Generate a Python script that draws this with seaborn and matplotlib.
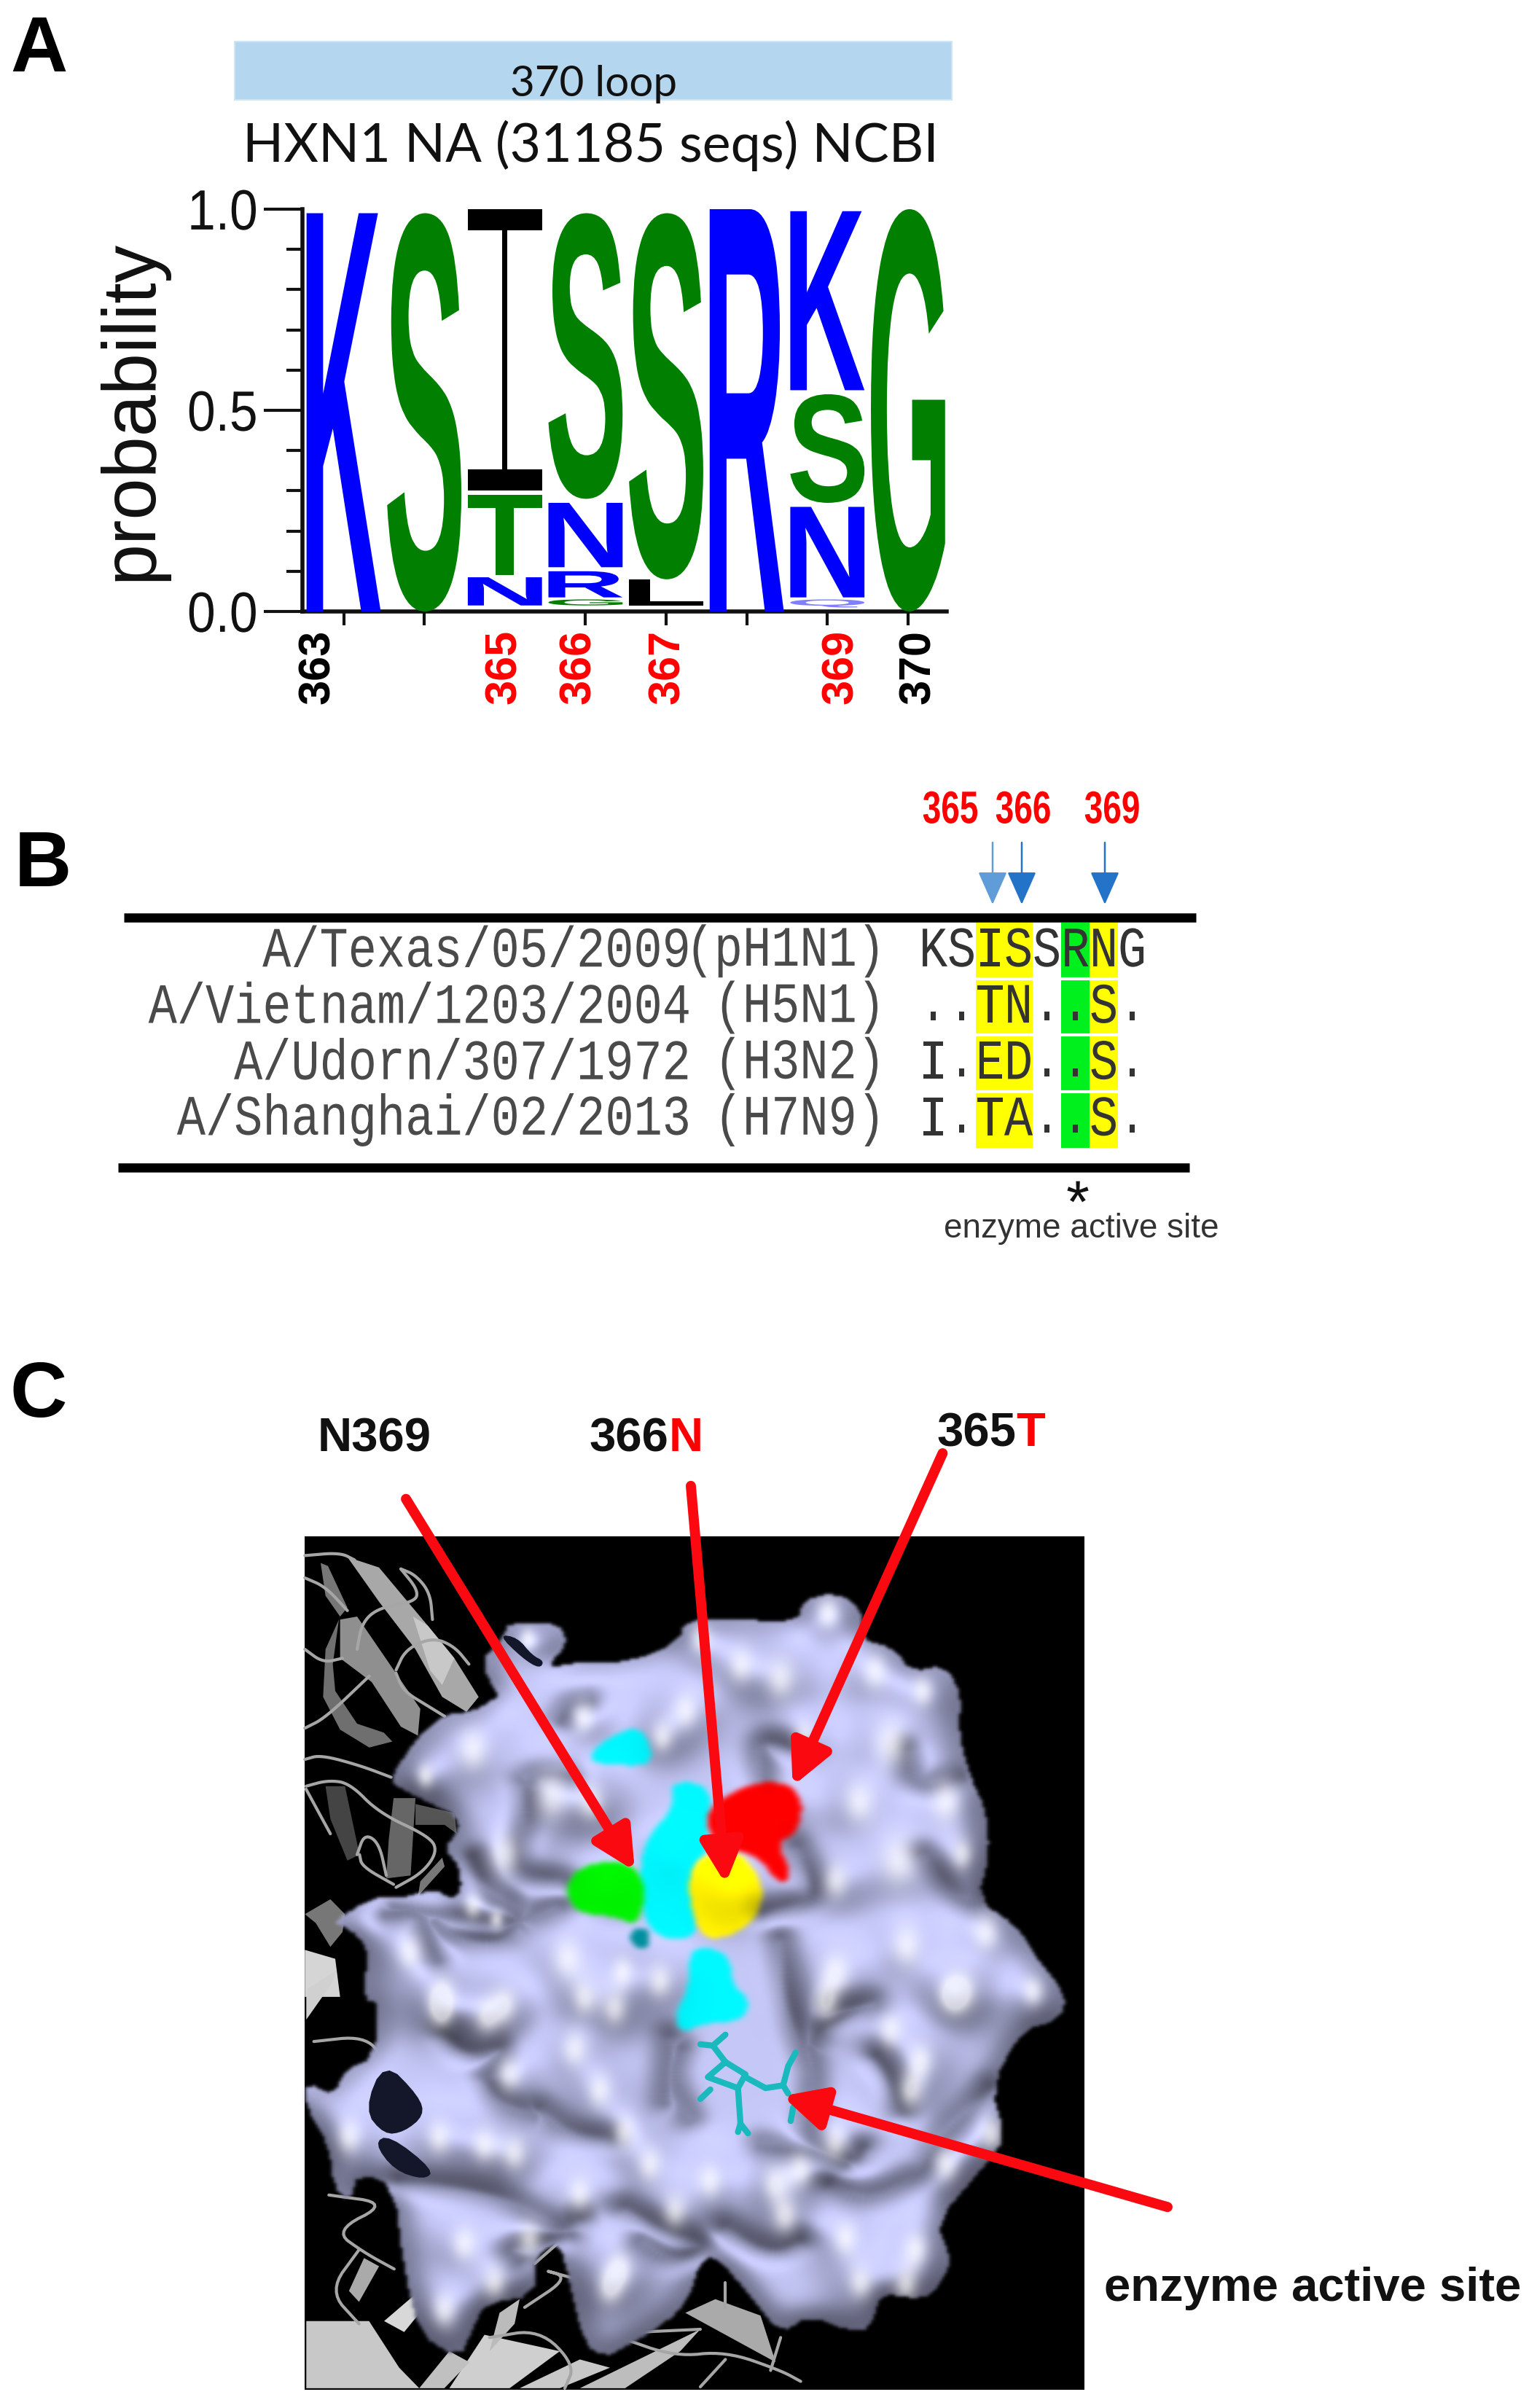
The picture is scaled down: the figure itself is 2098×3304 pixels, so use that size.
import numpy as np
import matplotlib
matplotlib.use("Agg")
import matplotlib.pyplot as plt
import seaborn as sns
from matplotlib.colors import ListedColormap
from matplotlib.patches import Rectangle, Polygon
from matplotlib.path import Path
from matplotlib.patheffects import AbstractPathEffect
from matplotlib.transforms import Affine2D

# ---------- data ----------
logo_positions = [1, 2, 3, 4, 5, 6, 7, 8]
logo_letters = [["K"], ["S"], ["N", "T", "I"], ["G", "R", "N", "S"], ["L", "S"], ["R"],
                ["Q", "N", "S", "K"], ["G"]]
logo_bottoms = [[0.0], [0.0], [0.015, 0.09, 0.30], [0.015, 0.035, 0.11, 0.28], [0.015, 0.08], [0.0],
                [0.01, 0.035, 0.27, 0.55], [0.0]]
logo_tops = [[0.99], [0.99], [0.085, 0.29, 1.0], [0.03, 0.10, 0.27, 0.99], [0.08, 0.99], [1.0],
             [0.03, 0.26, 0.54, 0.995], [1.0]]
xlabel_pos = [0.68, 3.0, 3.92, 5.02, 7.17, 8.13]
xlabels = ["363", "365", "366", "367", "369", "370"]
xlabel_colors = ["black", "red", "red", "red", "red", "black"]
strains = ["A/Texas/05/2009", "A/Vietnam/1203/2004", "A/Udorn/307/1972", "A/Shanghai/02/2013"]
subtypes = ["(pH1N1)", "(H5N1)", "(H3N2)", "(H7N9)"]
alignment = [list("KSISSRNG"), list("..TN..S."), list("I.ED..S."), list("I.TA..S.")]
highlight = [[0, 0, 1, 1, 0, 2, 1, 0]] * 4
arrow_labels = ["365", "366", "369"]

LOGO_COL = {"K": "#0000ff", "R": "#0000ff", "N": "#0000ff", "Q": "#7f7fff", "S": "#007f00",
            "T": "#007f00", "G": "#007f00", "I": "#000000", "L": "#000000"}

W, H = 2098, 3304
sns.set_theme(style="white")
plt.rcParams["font.family"] = ["Liberation Sans", "DejaVu Sans"]
fig = plt.figure(figsize=(W / 100, H / 100), dpi=100, facecolor="white")


def make_ax(x0, y0, x1, y1, **kw):
    return fig.add_axes([x0 / W, 1 - y1 / H, (x1 - x0) / W, (y1 - y0) / H], **kw)


class StretchToBox(AbstractPathEffect):
    """Stretches the glyph of a real Text so that it fills a box given in data units."""

    def __init__(self, ax, x0, y0, x1, y1):
        super().__init__()
        self.ax, self.box = ax, (x0, y0, x1, y1)

    def draw_path(self, renderer, gc, tpath, affine, rgbFace=None):
        p = tpath.transformed(affine)
        bb = p.get_extents()
        x0, y0, x1, y1 = self.box
        (a, b), (c, d) = self.ax.transData.transform([(x0, y0), (x1, y1)])
        t = (Affine2D().translate(-bb.x0, -bb.y0)
             .scale((c - a) / bb.width, (d - b) / bb.height).translate(a, b))
        renderer.draw_path(gc, p, t, rgbFace)


class SlabI(StretchToBox):
    """The logo's I: broad rounded bars and a thin stem, filling a box."""

    def draw_path(self, renderer, gc, tpath, affine, rgbFace=None):
        x0, y0, x1, y1 = self.box
        (a, b), (c, d) = self.ax.transData.transform([(x0, y0), (x1, y1)])
        cx = (a + c) / 2
        bar = 0.075 * (d - b)
        stem = 0.035 * (c - a) * 2
        rects = [(a, b, c, b + bar), (cx - stem / 2, b, cx + stem / 2, d), (a, d - bar, c, d)]
        for r0, r1, r2, r3 in rects:
            renderer.draw_path(gc, Path([(r0, r1), (r2, r1), (r2, r3), (r0, r3), (r0, r1)]),
                               Affine2D(), rgbFace)


class ScaleXY(AbstractPathEffect):
    """Anisotropic scale of a text about its centre (the reference is stretched)."""

    def __init__(self, sx=1.0, sy=1.0):
        super().__init__()
        self.sx, self.sy = sx, sy

    def draw_path(self, renderer, gc, tpath, affine, rgbFace=None):
        p = tpath.transformed(affine)
        bb = p.get_extents()
        cx, cy = (bb.x0 + bb.x1) / 2, (bb.y0 + bb.y1) / 2
        t = Affine2D().translate(-cx, -cy).scale(self.sx, self.sy).translate(cx, cy)
        renderer.draw_path(gc, p, t, rgbFace)


# ---------- full-figure overlay for header elements ----------
top = make_ax(0, 0, W, H, zorder=0)
top.set_xlim(0, W)
top.set_ylim(H, 0)
top.axis("off")
for s, x, y in [("A", 53, 70), ("B", 59, 1188), ("C", 53, 1916)]:
    top.text(x, y, s, fontsize=78, fontweight="bold", ha="center", va="center", color="black")
top.add_patch(Rectangle((322, 57), 984, 80, fc="#b4d6ee", ec="#cfe4f4", lw=1.5))
top.text(815, 116, "370 loop", fontsize=42, family="Lato", ha="center", va="center", color="#111111")
top.text(810, 200, "HXN1 NA (31185 seqs) NCBI", fontsize=53, family="Lato", ha="center",
         va="center", color="#111111")

# ---------- panel A: sequence logo ----------
axA = make_ax(415, 287, 1299, 839)
axA.patch.set_alpha(0)
axA.set_xlim(0.489, 8.48)
axA.set_ylim(0, 1)
sns.despine(ax=axA)
for sp in ("left", "bottom"):
    axA.spines[sp].set_linewidth(4)
    axA.spines[sp].set_color("#111111")
for pos, letters, bots, tops in zip(logo_positions, logo_letters, logo_bottoms, logo_tops):
    for ch, b, t in zip(letters, bots, tops):
        size = min(40, max(3, (t - b) * 380))
        txt = axA.text(pos, (b + t) / 2, ch, color=LOGO_COL[ch], fontsize=size, fontweight="bold",
                       ha="center", va="center")
        eff = SlabI if ch == "I" else StretchToBox
        txt.set_path_effects([eff(axA, pos - 0.46, b, pos + 0.46, t)])
axA.set_yticks([0, 0.5, 1.0], ["0.0", "0.5", "1.0"], fontsize=50, color="#111111")
axA.set_yticks(np.arange(0.1, 1.0, 0.1), minor=True)
axA.tick_params(axis="y", which="major", length=38, width=3, color="#111111", left=True, pad=6)
axA.tick_params(axis="y", which="minor", length=16, width=3, color="#111111", left=True)
for lab in axA.get_yticklabels():
    lab.set_path_effects([ScaleXY(1.0, 1.12)])
axA.set_xticks(logo_positions, minor=True)
axA.set_xticks(xlabel_pos, xlabels, rotation=90, fontsize=44, fontweight="bold")
axA.tick_params(axis="x", which="major", length=0, pad=18)
axA.tick_params(axis="x", which="minor", length=14, width=3, color="#111111", bottom=True)
for lab, c in zip(axA.get_xticklabels(), xlabel_colors):
    lab.set_color(c)
axA.set_ylabel("probability", fontsize=74, color="#111111", labelpad=0)
axA.yaxis.set_label_coords(-0.21, 0.50)

# ---------- panel B: alignment ----------
axB = make_ax(1261, 1266, 1573, 1575)
sns.heatmap(np.array(highlight), ax=axB, cbar=False, cmap=ListedColormap(["#ffffff", "#ffff00", "#00f01e"]),
            vmin=0, vmax=2, annot=np.array(alignment), fmt="", xticklabels=False, yticklabels=False,
            annot_kws={"fontsize": 47, "family": "Liberation Mono", "color": "#333333"})
axB.hlines([1, 2, 3], 0, 8, colors="white", lw=3)
for t in axB.texts:
    t.set_path_effects([ScaleXY(1.0, 1.2)])
for i, (st, sub) in enumerate(zip(strains, subtypes)):
    a = axB.text(-8.05, i + 0.5, st, ha="right", va="center", fontsize=47, family="Liberation Mono",
                 color="#4a4a4a", clip_on=False)
    b = axB.text(-1.19, i + 0.5, sub, ha="right", va="center", fontsize=47, family="Liberation Mono",
                 color="#4a4a4a", clip_on=False)
    a.set_path_effects([ScaleXY(1.0, 1.2)])
    b.set_path_effects([ScaleXY(1.0, 1.2)])
top.plot([170, 1641], [1259, 1259], color="black", lw=9, solid_capstyle="butt")
top.plot([162, 1632], [1602, 1602], color="black", lw=9, solid_capstyle="butt")
for x, c in zip((1362, 1402, 1516), ("#5f9cd8", "#2374c8", "#2374c8")):
    top.annotate("", xy=(x, 1241), xytext=(x, 1156),
                 arrowprops=dict(arrowstyle="-|>,head_length=0.95,head_width=0.42", color=c,
                                 lw=1.8, mutation_scale=30, shrinkA=0, shrinkB=0))
for x, s in zip((1304, 1404, 1526), arrow_labels):
    t = top.text(x, 1112, s, color="red", fontsize=36, fontweight="bold", ha="center", va="center")
    t.set_path_effects([ScaleXY(0.92, 1.25)])
star = top.text(1479, 1645, "*", fontsize=28, ha="center", va="center", color="#111111")
star.set_path_effects([ScaleXY(2.1, 2.1)])
top.text(1484, 1686, "enzyme active site", fontsize=33, ha="center", va="center", color="#333333")


# ---------- panel C: protein surface (working frame: 1568 x 1568 units over the crop) ----------
def from_a(pts):
    return [(9.2 + 0.308 * x, 223 + 0.456 * y) for x, y in pts]


def from_b(pts):
    return [(9.2 + 0.636 * x, 893 + 0.42 * y) for x, y in pts]


def chaikin(pts, n=2):
    p = np.array(pts, float)
    for _ in range(n):
        q = np.roll(p, -1, axis=0)
        p = np.stack([0.75 * p + 0.25 * q, 0.25 * p + 0.75 * q], axis=1).reshape(-1, 2)
    return p


def chaikin_open(pts, n=3):
    p = np.array(pts, float)
    for _ in range(n):
        m = np.stack([0.75 * p[:-1] + 0.25 * p[1:], 0.25 * p[:-1] + 0.75 * p[1:]], axis=1).reshape(-1, 2)
        p = np.vstack([p[:1], m, p[-1:]])
    return p


outline_top = [(262, 478), (240, 425), (270, 385), (275, 365), (340, 365), (350, 400), (320, 435), (370, 425),
               (430, 425), (490, 395), (500, 360), (570, 360), (640, 365), (650, 330), (690, 318), (725, 345),
               (720, 390), (765, 405), (785, 440), (830, 430), (850, 480), (845, 530), (860, 600), (880, 650),
               (885, 720), (870, 790), (920, 830), (945, 880)]
outline_bottom = [(1530, 100), (1520, 190), (1440, 230), (1380, 440), (1410, 620), (1370, 720), (1270, 930),
                  (1300, 1060), (1290, 1120), (1260, 1200), (1220, 1210), (1160, 1190), (1140, 1320), (1100, 1330),
                  (1020, 1270), (960, 1340), (900, 1200), (830, 1050), (800, 1080), (780, 1200), (740, 1290),
                  (640, 1400), (610, 1420), (570, 1380), (540, 1150), (520, 1000), (470, 1060), (470, 1200),
                  (370, 1230), (350, 1310), (320, 1430), (240, 1340), (210, 1100), (190, 800), (120, 750),
                  (100, 860), (70, 800), (60, 650), (15, 510), (15, 420), (70, 470), (90, 380), (150, 330),
                  (160, 130), (130, 120), (135, 0)]
outline_left = [(280, 1400), (210, 1340), (130, 1320), (320, 1230), (400, 1240), (560, 1210), (630, 1240),
                (670, 1210), (660, 1130), (600, 1070), (660, 1010), (650, 960), (520, 910), (400, 860), (380, 830),
                (470, 720), (500, 690), (600, 620), (720, 610), (820, 560)]
outline = outline_top + from_b(outline_bottom) + from_a(outline_left)

bumps_top = [(570, 430, 35), (680, 350, 30), (520, 390, 30), (620, 450, 40), (740, 440, 35), (800, 470, 30),
             (760, 550, 45), (830, 640, 40), (720, 640, 40), (650, 540, 30), (500, 500, 35), (370, 510, 30),
             (300, 390, 22), (230, 560, 40), (170, 600, 25), (330, 630, 45), (270, 720, 40), (380, 640, 35),
             (470, 540, 30), (770, 730, 50), (690, 760, 35), (850, 720, 30), (690, 900, 40), (780, 860, 40),
             (880, 840, 35), (850, 930, 40), (940, 930, 30), (150, 870, 35), (230, 800, 25), (260, 820, 20),
             (350, 880, 40), (420, 900, 30), (190, 960, 35), (270, 950, 35), (560, 770, 40), (620, 640, 32),
             (400, 770, 30), (480, 720, 30)]
bumps_lower = [(285, 100), (375, 180), (570, 110), (630, 150), (420, 390), (550, 300), (600, 450), (650, 600),
               (430, 680), (280, 620), (370, 650), (560, 830), (330, 1010), (460, 990), (390, 1150), (640, 1100),
               (620, 1170), (750, 890), (950, 790), (970, 910), (1090, 990), (1120, 1150), (1220, 450), (1240, 340),
               (1300, 100), (1050, 130), (1180, 230), (1290, 720), (1380, 610), (1070, 640), (820, 780), (1210, 1160),
               (720, 50), (100, 620), (1000, 740), (700, 720), (290, 1250), (1230, 1030)]
creases = [from_b([(370, 400), (400, 500), (470, 540)]), from_b([(370, 400), (420, 280), (340, 330), (290, 240)]),
           from_b([(620, 620), (540, 610), (480, 520)]), from_b([(760, 300), (740, 420), (780, 560)]),
           from_b([(1020, 300), (1030, 470), (1000, 620), (1110, 720), (1130, 660)]),
           from_b([(200, 780), (340, 810), (430, 860), (520, 960), (560, 920)]),
           from_b([(1060, 150), (1180, 120), (1050, 200), (1030, 280)]),
           from_b([(1380, 440), (1260, 660), (1240, 760), (1130, 860), (1060, 790)]),
           from_b([(650, 880), (740, 970), (820, 1010), (750, 1080), (680, 1000)]),
           from_b([(540, 980), (410, 1020), (440, 1070)]), from_b([(850, 950), (940, 1050), (1000, 1000)]),
           from_b([(920, 650), (1040, 680), (1090, 720)]), from_b([(1200, 530), (1180, 400), (1150, 330)]),
           from_a([(940, 850), (980, 810), (1120, 820)]),
           from_a([(930, 850), (940, 960), (900, 1100), (960, 1170), (1090, 1180)]),
           from_a([(710, 1100), (780, 1230), (900, 1270), (910, 1330)]),
           from_a([(560, 1320), (620, 1370), (830, 1390), (900, 1330)]),
           from_a([(1070, 640), (1110, 580), (1200, 570)]), from_a([(360, 1290), (500, 1280), (540, 1370), (580, 1440)]),
           [(640, 560), (590, 540), (600, 620)], [(640, 710), (670, 790), (600, 810)],
           [(850, 600), (790, 620), (780, 560)], [(900, 780), (850, 800), (800, 720)],
           [(620, 850), (630, 960), (660, 1050)], [(480, 1000), (475, 1100)], [(340, 800), (280, 830), (130, 800)]]
cyan_a = [(372, 578), (395, 545), (445, 520), (460, 580), (430, 585)]
cyan_b = [(480, 610), (520, 610), (535, 640), (525, 680), (530, 710), (505, 750), (520, 850), (460, 850),
          (440, 790), (445, 700), (485, 650)]
cyan_c = [(505, 860), (555, 870), (560, 925), (580, 940), (575, 975), (520, 980), (495, 995), (485, 970), (505, 920)]
red_patch = [(520, 655), (580, 610), (630, 610), (650, 640), (640, 690), (615, 700), (635, 750), (620, 770),
             (590, 720), (540, 710)]
yellow_patch = [(500, 750), (530, 715), (570, 715), (600, 770), (590, 820), (550, 850), (515, 845)]
green_patch = [(345, 770), (370, 735), (430, 730), (450, 770), (440, 830), (410, 815), (360, 810)]
teal_patch = [(428, 838), (452, 830), (455, 865), (432, 862)]

strand_polys = [
    (from_a([(200, 90), (330, 125), (530, 320), (640, 430), (740, 560), (690, 610), (590, 560), (480, 400), (330, 240)]), "#a8a8a8"),
    (from_a([(470, 290), (530, 320), (640, 430), (590, 520), (540, 470)]), "#c8c8c8"),
    (from_a([(170, 300), (240, 290), (500, 600), (490, 690), (420, 660), (300, 510), (170, 430)]), "#8f8f8f"),
    (from_a([(165, 300), (110, 400), (100, 560), (170, 670), (290, 730), (385, 710), (350, 680), (240, 650), (150, 540), (140, 450)]), "#6f6f6f"),
    (from_a([(90, 110), (120, 120), (200, 260), (170, 290), (110, 220)]), "#777777"),
    (from_a([(110, 860), (190, 860), (250, 1090), (200, 1110), (130, 970)]), "#444444"),
    (from_a([(390, 900), (480, 900), (460, 1160), (360, 1170), (370, 1040)]), "#666666"),
    (from_a([(500, 1180), (590, 1100), (600, 1130), (490, 1230)]), "#777777"),
    (from_a([(480, 920), (640, 950), (650, 1020), (600, 990), (480, 990)]), "#555555"),
    (from_a([(25, 1290), (130, 1240), (190, 1290), (180, 1350), (130, 1400), (70, 1320)]), "#777777"),
    (from_a([(25, 1410), (150, 1440), (170, 1568), (25, 1568)]), "#d5d5d5"),
    (from_b([(15, 80), (75, 10), (65, 60), (15, 190)]), "#d0d0d0"),
    (from_b([(15, 1290), (140, 1290), (200, 1460), (240, 1535), (15, 1535)]), "#c8c8c8"),
    (from_b([(170, 1290), (240, 1180), (250, 1240), (210, 1330)]), "#d8d8d8"),
    (from_b([(100, 1180), (130, 1060), (160, 1090), (120, 1220)]), "#aaaaaa"),
    (from_b([(300, 1535), (370, 1340), (520, 1400), (420, 1535)]), "#cfcfcf"),
    (from_b([(400, 1260), (440, 1210), (430, 1300), (380, 1400)]), "#bbbbbb"),
    (from_b([(560, 1535), (800, 1320), (760, 1400), (650, 1535)]), "#bdbdbd"),
    (from_b([(770, 1260), (830, 1210), (920, 1270), (950, 1440), (880, 1370)]), "#aaaaaa"),
    (from_b([(240, 1535), (300, 1400), (340, 1440), (290, 1535)]), "#c0c0c0"),
    (from_b([(440, 1535), (560, 1430), (620, 1460), (520, 1535)]), "#c8c8c8")]
thin_lines = [from_a(v) for v in [
    [(25, 85), (170, 75), (230, 100)], [(25, 160), (110, 190), (200, 270)], [(420, 130), (480, 150), (540, 210), (550, 300)],
    [(420, 130), (490, 200), (480, 240), (330, 260), (260, 310), (240, 400)], [(400, 470), (440, 400), (550, 360), (640, 390), (700, 450)],
    [(400, 480), (430, 540), (530, 590), (600, 625)], [(25, 400), (100, 445), (180, 430)], [(25, 665), (110, 630), (290, 490)],
    [(25, 770), (90, 755), (250, 790), (380, 830)], [(30, 860), (120, 840), (210, 850), (330, 950), (540, 1030), (570, 1080), (510, 1150), (400, 1200)],
    [(30, 870), (90, 960), (130, 1020)], [(240, 1090), (270, 1020), (330, 1050), (360, 1160)], [(250, 1090), (260, 1130), (390, 1190)]]]
thin_lines += [from_b(v) for v in [
    [(60, 830), (180, 860), (70, 960), (130, 1040), (190, 1100)], [(30, 270), (130, 250), (170, 330)], [(120, 1030), (60, 1180), (120, 1300)],
    [(470, 1080), (520, 1000)], [(450, 1240), (540, 1130), (480, 1100), (560, 1140)], [(640, 1350), (750, 1420), (850, 1400), (960, 1470), (1000, 1510)],
    [(850, 1150), (850, 1240)], [(960, 1350), (940, 1470)], [(380, 1350), (480, 1320), (550, 1450), (530, 1535)], [(800, 1530), (850, 1430)],
    [(680, 1330), (800, 1320)]]]
navy_polys = [from_b([(130, 520), (170, 340), (240, 470), (250, 540), (210, 600), (170, 610)]),
              from_b([(150, 640), (180, 610), (270, 740), (250, 775), (190, 740)]),
              from_a([(820, 350), (900, 360), (960, 420), (1010, 440), (990, 465), (920, 430)])]
ligand = [from_b(v) for v in [[(850, 245), (825, 285), (800, 280)], [(825, 285), (850, 345), (890, 390), (875, 440), (815, 400), (850, 345)],
                              [(820, 445), (800, 480)], [(875, 440), (880, 570), (895, 605)], [(880, 570), (875, 600)],
                              [(890, 400), (930, 440), (965, 430), (975, 360), (990, 310)], [(965, 430), (975, 460)], [(985, 510), (980, 560)]]]

axC = make_ax(400, 1900, 2098, 3304)
axC.set_xlim(0, 1568)
axC.set_ylim(1568, 0)
axC.axis("off")
axC.add_patch(Rectangle((17, 232), 988, 1308, fc="black", ec="none", zorder=1))
for poly, col in strand_polys:
    axC.add_patch(Polygon(poly, closed=True, fc=col, ec="none", zorder=2))
for ln in thin_lines:
    a = chaikin_open(ln)
    axC.plot(a[:, 0], a[:, 1], color="#a6a6a6", lw=3, zorder=2.2, solid_joinstyle="round")

step = 3
gx, gy = np.meshgrid(np.arange(0, 1568, step) + step / 2, np.arange(0, 1568, step) + step / 2)
xy = np.column_stack([gx.ravel(), gy.ravel()])


def region(pts, n=2):
    return Path(chaikin(pts, n)).contains_points(xy).reshape(gx.shape)


def blur(a, s):
    r = int(3 * s)
    k = np.exp(-np.arange(-r, r + 1) ** 2 / (2 * s * s))
    k /= k.sum()
    a = np.apply_along_axis(lambda v: np.convolve(v, k, mode="same"), 0, a)
    return np.apply_along_axis(lambda v: np.convolve(v, k, mode="same"), 1, a)


mask = region(outline, 1)
all_bumps = bumps_top + [(x, y, 34) for x, y in from_b(bumps_lower)]
hgt = blur(mask.astype(float), 6) * 50
glow = np.zeros(gx.shape)
for x, y, s in all_bumps:
    hgt += 0.75 * s * np.exp(-((gx - x) ** 2 + (gy - y) ** 2) / (2 * (0.95 * s) ** 2))
    glow += np.exp(-((gx - x) ** 2 / (2 * (0.36 * s) ** 2) + (gy - y) ** 2 / (2 * (0.62 * s) ** 2)))
crease = np.zeros(gx.shape)
for ln in creases:
    a = chaikin_open(ln, 3)
    for p, q in zip(a[:-1], a[1:]):
        for f in np.linspace(0, 1, int(np.hypot(*(q - p)) / 7) + 2):
            c = p + (q - p) * f
            crease = np.maximum(crease, np.exp(-((gx - c[0]) ** 2 + (gy - c[1]) ** 2) / (2 * 13.0 ** 2)))
hgt = blur(hgt - 20 * crease, 2.5)
hy, hx = np.gradient(hgt, step)
lx, ly, lz = 0.0, -0.30, 0.95
lam = np.clip((-hx * lx - hy * ly + lz) / np.sqrt(1 + hx ** 2 + hy ** 2), 0, 1)
shade = (0.38 + 0.76 * lam ** 1.7) * (1 - 0.34 * crease ** 2)
base = np.ones(gx.shape + (3,)) * np.array([0.72, 0.73, 0.90])
rgb = base * shade[..., None]
rgb = rgb + (1 - rgb) * (np.clip(glow, 0, 1) ** 1.4 * 0.66)[..., None]
for pts, col, amt in [(cyan_a, (0, 0.95, 0.98), 0.15), (cyan_b, (0, 0.95, 0.98), 0.15), (cyan_c, (0, 0.95, 0.98), 0.15),
                      (red_patch, (1, 0, 0), 0.1), (yellow_patch, (0.98, 0.92, 0), 0.5), (green_patch, (0, 0.95, 0), 0.1),
                      (teal_patch, (0, 0.55, 0.6), 0.1)]:
    r = blur(region(pts).astype(float), 1.2)[..., None]
    coloured = np.array(col) * ((1 - amt) + amt * shade[..., None] * 1.1)
    rgb = rgb * (1 - r) + coloured * r
alpha = blur(mask.astype(float), 0.7)
axC.imshow(np.dstack([np.clip(rgb, 0, 1), alpha]), extent=(0, 1568, 1568, 0), zorder=3, aspect="auto",
           interpolation="bilinear")
axC.set_xlim(0, 1568)
axC.set_ylim(1568, 0)
for poly in navy_polys:
    axC.add_patch(Polygon(chaikin(poly, 2), closed=True, fc="#14172a", ec="none", zorder=3.5))
for ln in ligand:
    a = np.array(ln)
    axC.plot(a[:, 0], a[:, 1], color="#19b9bd", lw=6, zorder=4, solid_capstyle="round")
for tail, tip in [((145, 175), (435, 745)), ((506, 155), (550, 765)), ((825, 105), (635, 615)),
                  ((1110, 1260), (622, 1090))]:
    axC.annotate("", xy=tip, xytext=tail, zorder=6,
                 arrowprops=dict(arrowstyle="-|>,head_length=1.0,head_width=0.5", color="#fa0a10", lw=10,
                                 mutation_scale=34, shrinkA=0, shrinkB=0))
fs = 47
axC.text(105, 83, "N369", fontsize=fs, fontweight="bold", ha="center", va="center", color="#111111")
axC.text(478, 83, "366", fontsize=fs, fontweight="bold", ha="right", va="center", color="#111111")
axC.text(478, 83, "N", fontsize=fs, fontweight="bold", ha="left", va="center", color="red")
axC.text(918, 75, "365", fontsize=fs, fontweight="bold", ha="right", va="center", color="#111111")
axC.text(918, 75, "T", fontsize=fs, fontweight="bold", ha="left", va="center", color="red")
axC.text(1030, 1385, "enzyme active site", fontsize=fs, fontweight="bold", ha="left", va="center", color="#111111")

fig.savefig("out.png", dpi=100, facecolor="white")
